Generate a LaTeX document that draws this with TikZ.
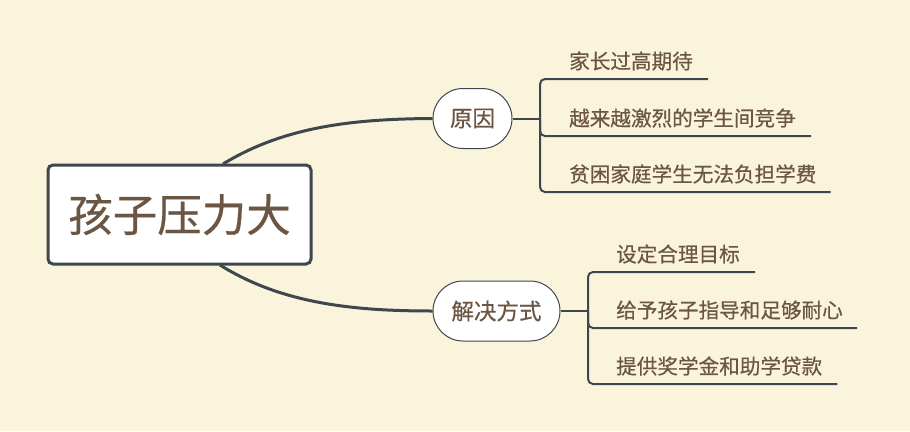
\documentclass[tikz,border=0pt]{standalone}
\usepackage{fontspec}
\setmainfont{Noto Sans CJK SC}[FakeBold=0.5]
\usetikzlibrary{calc}
\definecolor{bg}{HTML}{FBF4DC}
\definecolor{ln}{HTML}{3E464E}
\definecolor{tx}{HTML}{6B5644}
\tikzset{
  rootbox/.style={draw=ln, line width=3pt, fill=white, rounded corners=5pt, minimum width=263pt, minimum height=99pt, text=tx, font=\fontsize{44.5}{50}\selectfont, inner sep=0pt},
  topicbox/.style={draw=ln, line width=1pt, fill=white, rounded corners=30pt, minimum height=60pt, text=tx, font=\fontsize{22.5}{26}\selectfont, inner sep=0pt},
  leaf/.style={text=tx, font=\fontsize{20.6}{24}\selectfont, inner sep=0pt, anchor=west},
  mainline/.style={draw=ln, line width=3pt},
  branch/.style={draw=ln, line width=2pt, rounded corners=5pt},
}
\begin{document}
\begin{tikzpicture}[x=1pt,y=-1pt]
\path[fill=bg] (0,0) rectangle (910,431);
\node[rootbox] (root) at (179.5,214.5) {孩子压力大};
\node[topicbox, minimum width=79pt] (yy) at (472.5,118.5) {原因};
\node[topicbox, minimum width=127pt] (jj) at (496.5,311) {解决方式};
% leaves
\node[leaf] (a1) at (569,61) {家长过高期待};
\node[leaf] (a2) at (569,118) {越来越激烈的学生间竞争};
\node[leaf] (a3) at (569,174) {贫困家庭学生无法负担学费};
\node[leaf] (b1) at (616,254) {设定合理目标};
\node[leaf] (b2) at (616,310) {给予孩子指导和足够耐心};
\node[leaf] (b3) at (616,366) {提供奖学金和助学贷款};
% main curves
\draw[mainline] (223,164) .. controls (285,126) and (355,119) .. (yy.west);
\draw[mainline] (220,265) .. controls (282,304) and (355,311) .. (jj.west);
% upper bracket
\draw[draw=ln, line width=2pt] (yy.east) -- (541,118.5) coordinate (yjoin);
\draw[branch] ($(a1.east)+(15,18)$) -- (540,79) -- (540,192) -- ($(a3.east)+(14,18)$);
\draw[branch] (540,120) -- (540,136) -- ($(a2.east)+(15,18)$);
% lower bracket
\draw[draw=ln, line width=2pt] (jj.east) -- (589,311) coordinate (jjoin);
\draw[branch] ($(b1.east)+(15,18)$) -- (588,272) -- (588,384) -- ($(b3.east)+(15,18)$);
\draw[branch] (588,312) -- (588,328) -- ($(b2.east)+(14,18)$);
\end{tikzpicture}
\end{document}
